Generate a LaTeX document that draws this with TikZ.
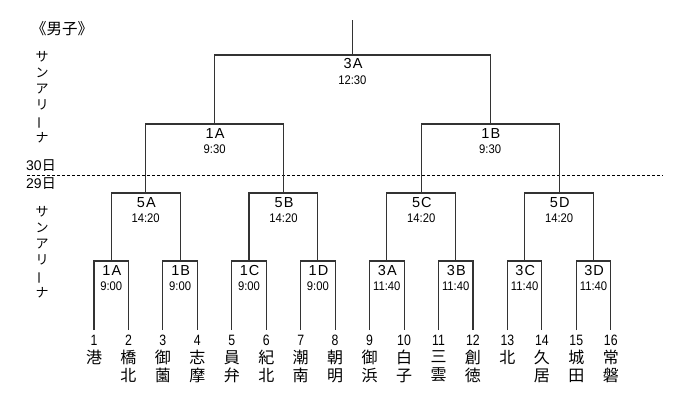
\documentclass[tikz,border=0pt]{standalone}
\usepackage{fontspec}
\setmainfont{Liberation Sans}
\newfontfamily\jpfont{Noto Sans CJK JP}
\newfontfamily\narrowfont[FakeStretch=0.82]{Liberation Sans}
\newfontfamily\timefont[FakeStretch=0.9]{Liberation Sans}
\newfontfamily\gamefont[LetterSpace=8]{Liberation Sans}
\newcommand{\vbar}{\rotatebox[origin=c]{90}{ー}}
\usetikzlibrary{positioning}

\tikzset{
  bracket/.style={line width=1.1pt, draw=black!80},
  game/.style={font=\gamefont\fontsize{14.5}{14.5}\selectfont, inner sep=0pt, xshift=0.6pt},
  gametime/.style={font=\timefont\fontsize{12.5}{12.5}\selectfont, inner sep=0pt},
  seed/.style={font=\narrowfont\fontsize{15}{15}\selectfont, inner sep=0pt},
  school/.style={font=\jpfont\fontsize{16}{18}\selectfont, align=center, inner sep=0pt, anchor=north},
  venue/.style={font=\jpfont\fontsize{13}{16.2}\selectfont, align=center, inner sep=0pt},
  daylabel/.style={font=\fontsize{14}{14}\selectfont, inner sep=0pt, anchor=west},
}

\begin{document}
\begin{tikzpicture}[x=1pt,y=-1pt]
  \useasboundingbox (0,0) rectangle (680,416);
  % Title and venues
  \node[font=\jpfont\fontsize{15.5}{15.5}\selectfont, inner sep=0pt, anchor=west] (title) at (31,29) {《男子》};
  \node[venue] (venue30) at (42,97) {サ\\ン\\ア\\リ\\\vbar\\ナ};
  \node[venue] (venue29) at (42,252) {サ\\ン\\ア\\リ\\\vbar\\ナ};
  % Day line
  \coordinate (dayl) at (27,175);
  \coordinate (dayr) at (663,175);
  \draw[line width=1pt, dash pattern=on 3pt off 2pt] (dayl) -- (dayr);
  \node[daylabel] (day30) at (26,166) {30{\jpfont 日}};
  \node[daylabel] (day29) at (26,184) {29{\jpfont 日}};
  % Teams
  \foreach \i/\nm in {1/港, 2/{橋\\北}, 3/{御\\薗}, 4/{志\\摩}, 5/{員\\弁}, 6/{紀\\北},
      7/{潮\\南}, 8/{朝\\明}, 9/{御\\浜}, 10/{白\\子}, 11/{三\\雲}, 12/{創\\徳},
      13/北, 14/{久\\居}, 15/{城\\田}, 16/{常\\磐}} {
    \pgfmathsetmacro\xx{94+(\i-1)*34.45}
    \coordinate (t\i) at (\xx,330);
    \node[seed] (n\i) at (\xx,340.5) {\i};
    \node[school] (s\i) at (\xx,350) {\nm};
  }
  % First round
  \foreach \j/\g/\tm in {1/1A/9:00, 2/1B/9:00, 3/1C/9:00, 4/1D/9:00,
      5/3A/11:40, 6/3B/11:40, 7/3C/11:40, 8/3D/11:40} {
    \pgfmathsetmacro\xm{94+(2*\j-1.5)*34.45}
    \pgfmathtruncatemacro\a{2*\j-1}
    \pgfmathtruncatemacro\b{2*\j}
    \coordinate (m\j) at (\xm,261);
    \draw[bracket] (t\a) |- (m\j) -| (t\b);
    \node[game] (g\j) at (\xm,270.7) {\g};
    \node[gametime] (h\j) at (\xm,286.5) {\tm};
  }
  % Second round
  \foreach \k/\g in {1/5A, 2/5B, 3/5C, 4/5D} {
    \pgfmathsetmacro\xm{94+(4*\k-2.5)*34.45}
    \pgfmathtruncatemacro\a{2*\k-1}
    \pgfmathtruncatemacro\b{2*\k}
    \coordinate (q\k) at (\xm,193);
    \draw[bracket] (m\a) |- (q\k) -| (m\b);
    \node[game] (gq\k) at (\xm,202.5) {\g};
    \node[gametime] (hq\k) at (\xm,218) {14:20};
  }
  % Semifinals
  \foreach \l/\g in {1/1A, 2/1B} {
    \pgfmathsetmacro\xm{94+(8*\l-4.5)*34.45}
    \pgfmathtruncatemacro\a{2*\l-1}
    \pgfmathtruncatemacro\b{2*\l}
    \coordinate (r\l) at (\xm,124);
    \draw[bracket] (q\a) |- (r\l) -| (q\b);
    \node[game] (gr\l) at (\xm,133.5) {\g};
    \node[gametime] (hr\l) at (\xm,149) {9:30};
  }
  % Final
  \coordinate (fin) at (352.4,55);
  \coordinate (top) at (352.4,20);
  \draw[bracket] (r1) |- (fin) -| (r2);
  \draw[bracket] (fin) -- (top);
  \node[game] (gf) at (352.4,64) {3A};
  \node[gametime] (hf) at (352.4,80) {12:30};
\end{tikzpicture}
\end{document}
